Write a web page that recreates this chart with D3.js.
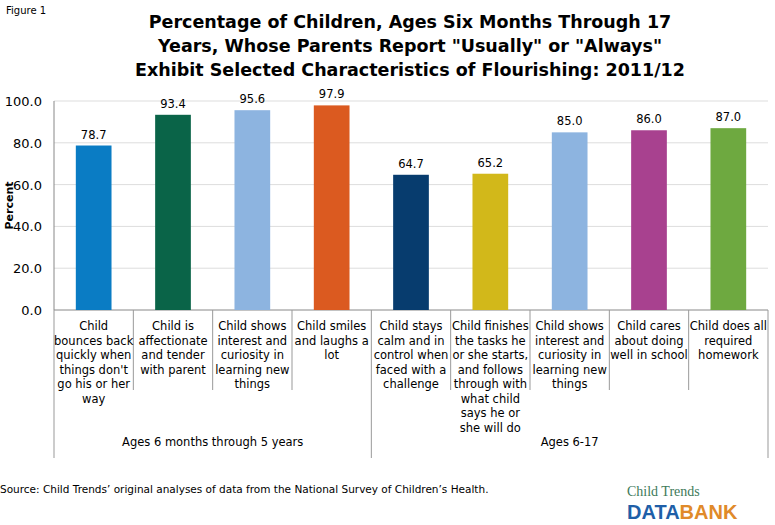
<!DOCTYPE html><html><head><meta charset="utf-8"><script src="https://cdn.jsdelivr.net/npm/d3@7"></script>
<style>body{margin:0;background:#fff}</style></head><body><svg id="c" width="775" height="525"></svg>
<script>
const categories=[["Child","bounces back","quickly when","things don't","go his or her","way"],["Child is","affectionate","and tender","with parent"],["Child shows","interest and","curiosity in","learning new","things"],["Child smiles","and laughs a","lot"],["Child stays","calm and in","control when","faced with a","challenge"],["Child finishes","the tasks he","or she starts,","and follows","through with","what child","says he or","she will do"],["Child shows","interest and","curiosity in","learning new","things"],["Child cares","about doing","well in school"],["Child does all","required","homework"]];
const values=[78.7,93.4,95.6,97.9,64.7,65.2,85.0,86.0,87.0];
const colors=["#0a7cc4","#0a6448","#8db4e0","#db5a20","#073c6e","#d2b81a","#8db4e0","#a8418f","#6ea940"];
const groups=[{label:"Ages 6 months through 5 years",from:0,to:4},{label:"Ages 6-17",from:4,to:9}];
const yTicks=[0,20,40,60,80,100];
const svg=d3.select("#c");
const L=54,R=768,T=101,B=310;
const x=d3.scaleBand().domain(d3.range(9)).range([L,R]).paddingInner(0.55).paddingOuter(0.275);
const y=d3.scaleLinear().domain([0,100]).range([B,T]);
const f="DejaVu Sans, Verdana, sans-serif";
svg.append("text").attr("x",6).attr("y",14).attr("font-family",f).attr("font-size",10).text("Figure 1");
["Percentage of Children, Ages Six Months Through 17","Years, Whose Parents Report \"Usually\" or \"Always\"","Exhibit Selected  Characteristics of Flourishing: 2011/12"].forEach((t,i)=>svg.append("text").attr("x",410).attr("y",28+i*24).attr("text-anchor","middle").attr("font-family",f).attr("font-weight","bold").attr("font-size",17.5).text(t));
svg.selectAll(".g").data(yTicks).join("line").attr("x1",L).attr("x2",R).attr("y1",d=>y(d)).attr("y2",d=>y(d)).attr("stroke",d=>d?"#ddd":"#888");
svg.append("line").attr("x1",L).attr("x2",L).attr("y1",T).attr("y2",B).attr("stroke","#888");
svg.selectAll(".yl").data(yTicks).join("text").attr("x",L-12).attr("y",d=>y(d)+5).attr("text-anchor","end").attr("font-family",f).attr("font-size",13).text(d=>d.toFixed(1));
svg.append("text").attr("transform",`translate(13,${(T+B)/2}) rotate(-90)`).attr("text-anchor","middle").attr("font-family",f).attr("font-weight","bold").attr("font-size",11).text("Percent");
svg.selectAll(".b").data(values).join("rect").attr("x",(d,i)=>x(i)).attr("width",x.bandwidth()).attr("y",d=>y(d)).attr("height",d=>B-y(d)).attr("fill",(d,i)=>colors[i]);
svg.selectAll(".v").data(values).join("text").attr("x",(d,i)=>x(i)+x.bandwidth()/2).attr("y",d=>y(d)-7).attr("text-anchor","middle").attr("font-family",f).attr("font-size",11.5).text(d=>d.toFixed(1));
const step=x.step();
d3.range(10).forEach(i=>{const xx=L+i*step;const big=(i==0||i==4||i==9);svg.append("line").attr("x1",xx).attr("x2",xx).attr("y1",B).attr("y2",big?458:390).attr("stroke","#999");});
categories.forEach((c,i)=>{const t=svg.append("text").attr("font-family",f).attr("font-size",11.5).attr("text-anchor","middle");c.forEach((l,j)=>t.append("tspan").attr("x",L+(i+0.5)*step).attr("y",330+j*14.5).text(l));});
groups.forEach(g=>svg.append("text").attr("x",L+(g.from+g.to)/2*step).attr("y",446).attr("text-anchor","middle").attr("font-family",f).attr("font-size",11.5).text(g.label));
svg.append("text").attr("x",0).attr("y",493).attr("font-family",f).attr("font-size",10.5).text("Source: Child Trends’ original analyses of data from the National Survey of Children’s Health.");
svg.append("text").attr("x",627).attr("y",496).attr("font-family","Liberation Serif, serif").attr("font-size",14).attr("fill","#3e7a5a").text("Child Trends");
svg.append("text").attr("x",627).attr("y",519).attr("font-family","Liberation Sans, sans-serif").attr("font-weight","bold").attr("font-size",20).attr("fill","#1f5fa8").text("DATA").append("tspan").attr("fill","#e08a2a").text("BANK");
</script></body></html>
